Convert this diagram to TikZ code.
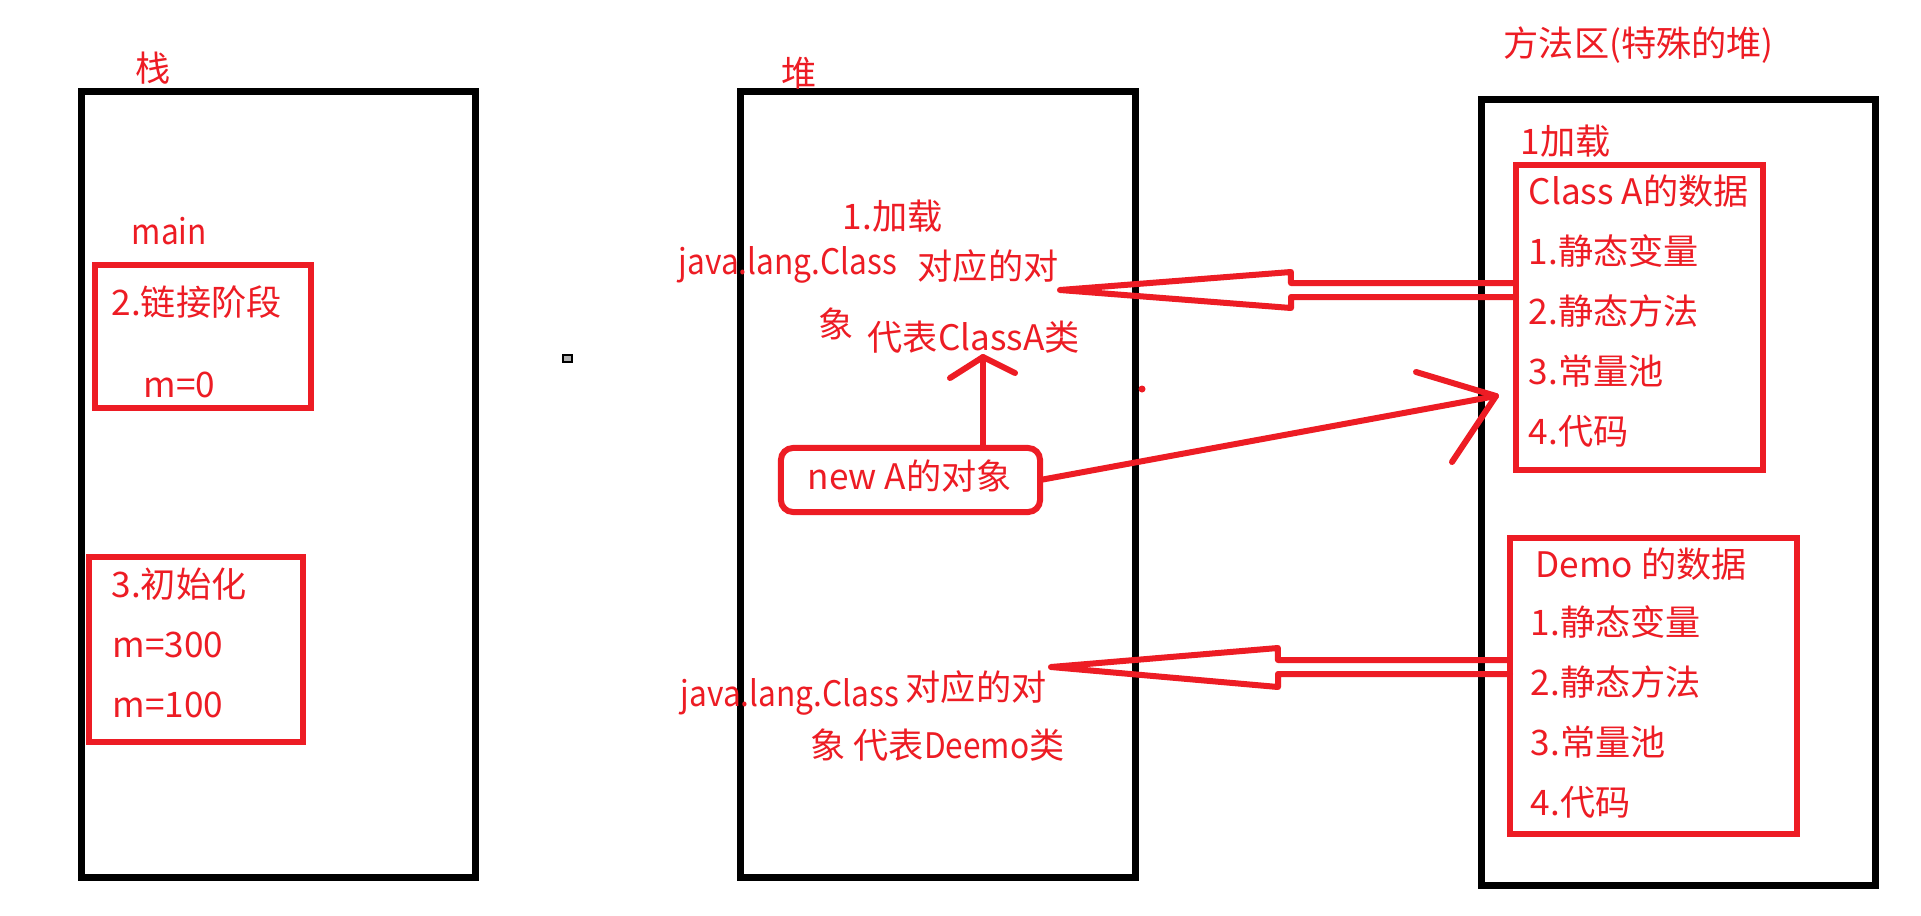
\documentclass[tikz,border=0pt]{standalone}
\usepackage{fontspec}
\newfontfamily\cjk{Noto Sans CJK SC}
\newfontfamily\narrowlat[FakeStretch=0.9]{Noto Sans CJK SC}
\usetikzlibrary{calc}
\definecolor{jvred}{RGB}{237,28,36}
\tikzstyle{areabox} = [rectangle, draw=black, line width=0.07cm, inner sep=0, outer sep=0]
\tikzstyle{stagebox} = [rectangle, draw=jvred, line width=0.06cm, inner sep=0, outer sep=0]
\tikzstyle{objbox} = [stagebox, rounded corners=0.12cm]
\tikzstyle{txt} = [anchor=base west, inner sep=0, text=jvred, font=\cjk\fontsize{10}{12}\selectfont]
\tikzstyle{redline} = [jvred, line width=0.06cm, line cap=round, line join=round]

\begin{document}
\begin{tikzpicture}[x=0.01cm, y=-0.01cm]
\path[use as bounding box, fill=white] (0,0) rectangle (1921,915);

% Stack
\node[areabox, minimum width=3.93cm, minimum height=7.85cm] (stack) at (278.5,484.5) {};
\node[txt] (stackT) at (135,81) {栈};
\node[txt] (mainT) at (131,244) {{\narrowlat main}};
\node[stagebox, minimum width=2.16cm, minimum height=1.43cm] (link) at (203,336.5) {};
\node[txt] (linkT) at (111,315) {2.链接阶段};
\node[txt] (linkM) at (143,397) {m=0};
\node[stagebox, minimum width=2.14cm, minimum height=1.85cm] (init) at (196,649.5) {};
\node[txt] (initT) at (111,597) {3.初始化};
\node[txt] (initA) at (112,657) {m=300};
\node[txt] (initB) at (112,717) {m=100};

% Heap
\node[areabox, minimum width=3.94cm, minimum height=7.85cm] (heap) at (938,484.5) {};
\node[txt] (heapT) at (781,86) {堆};
\node[txt] (loadA) at (842,229) {1.加载};
\node[txt] (jclsA) at (678,274) {{\narrowlat java.lang.Class}};
\node[txt] (jobjA) at (917,279) {对应的对};
\node[txt] (xiangA) at (818,337) {象};
\node[txt] (reprA) at (867,350) {代表ClassA类};
\node[objbox, minimum width=2.59cm, minimum height=0.64cm] (newA) at (910.5,480) {};
\node[txt] (newAT) at (807,489) {new A的对象};
\node[txt] (jclsD) at (680,706) {{\narrowlat java.lang.Class}};
\node[txt] (jobjD) at (905,700) {对应的对};
\node[txt] (reprD) at (810,758) {象 代表{\narrowlat Deemo}类};

% Method area
\node[areabox, minimum width=3.93cm, minimum height=7.85cm] (method) at (1678.5,492.5) {};
\node[txt] (methodT) at (1503,56) {方法区(特殊的堆)};
\node[txt] (loadM) at (1520,154) {1加载};
\node[stagebox, minimum width=2.47cm, minimum height=3.05cm] (classA) at (1639.5,317.5) {};
\node[txt] (classAT) at (1528,204) {Class A的数据};
\foreach \entry [count=\i] in {1.静态变量,2.静态方法,3.常量池,4.代码}
  \node[txt] (a\i) at (1528,204+60*\i) {\entry};
\node[stagebox, minimum width=2.87cm, minimum height=2.96cm] (demo) at (1653.5,686) {};
\node[txt] (demoT) at (1535,577) {Demo 的数据};
\foreach \entry [count=\i] in {1.静态变量,2.静态方法,3.常量池,4.代码}
  \node[txt] (d\i) at (1530,575+60*\i) {\entry};

% Arrows
\coordinate (tipA) at (1060,290);
\draw[redline] (classA.west |- tipA) ++(0,-7) -- ++(-225,0) -- ++(0,-11) -- (tipA) -- ++(231,18) -- ++(0,-11) -- ++(225,0);
\coordinate (tipD) at (1051,667);
\draw[redline] (demo.west |- tipD) ++(0,-7) -- ++(-232,0) -- ++(0,-12) -- (tipD) -- ++(227,20) -- ++(0,-13) -- ++(232,0);
\coordinate (tipN) at (1496,396);
\draw[redline] (newA.east) -- (tipN);
\draw[redline] (tipN) ++(-80,-24) -- (tipN) -- ++(-44,66);
\coordinate (tipU) at (983,357);
\draw[redline] (newA.north -| tipU) -- (tipU);
\draw[redline] (tipU) ++(-33,21) -- (tipU) -- ++(32,16);

% stray marks
\fill[jvred] (1142,389) circle (0.035cm);
\draw[black, line width=0.02cm, fill=gray!60] (563,355) rectangle (572,362);
\end{tikzpicture}
\end{document}
